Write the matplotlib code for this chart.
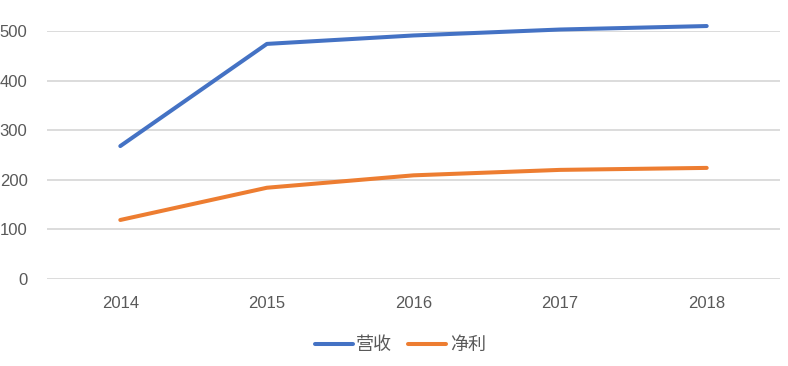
import matplotlib
matplotlib.use("Agg")
import matplotlib.pyplot as plt

plt.rcParams['font.family'] = ['Liberation Sans', 'Noto Sans CJK SC', 'DejaVu Sans']

years = ["2014", "2015", "2016", "2017", "2018"]
revenue = [268, 474, 491, 503, 510]
profit = [119, 184, 209, 220, 224]
series_names = ["营收", "净利"]
yticks = [0, 100, 200, 300, 400, 500]

fig = plt.figure(figsize=(7.88, 3.66), dpi=100)
ax = fig.add_axes([47/788, 1-279/366, (780-47)/788, (279-31)/366])

x = range(len(years))
ax.plot(x, revenue, color="#4472C4", lw=2.9, solid_capstyle="round", solid_joinstyle="round",
        clip_on=False, label=series_names[0], zorder=3)
ax.plot(x, profit, color="#ED7D31", lw=2.9, solid_capstyle="round", solid_joinstyle="round",
        clip_on=False, label=series_names[1], zorder=3)

ax.set_xlim(-0.5, len(years) - 0.5)
ax.set_ylim(0, 500)
ax.set_yticks(yticks)
ax.set_xticks(list(x))
ax.set_xticklabels(years)
for s in ax.spines.values():
    s.set_visible(False)
ax.grid(axis="y", color="#D9D9D9", lw=1.3)
ax.set_axisbelow(True)
ax.tick_params(axis="both", length=0, labelsize=12, colors="#595959")
ax.tick_params(axis="y", pad=14)
ax.tick_params(axis="x", pad=12)

leg = fig.legend(loc="center", bbox_to_anchor=(0.508, 1-345/366), ncol=2, frameon=False,
                 handlelength=2.1, handletextpad=0.2, columnspacing=0.9,
                 prop={'family': ['Noto Sans CJK SC', 'DejaVu Sans'], 'size': 13})
for t in leg.get_texts():
    t.set_color("#595959")

fig.savefig("out.png", dpi=100)
